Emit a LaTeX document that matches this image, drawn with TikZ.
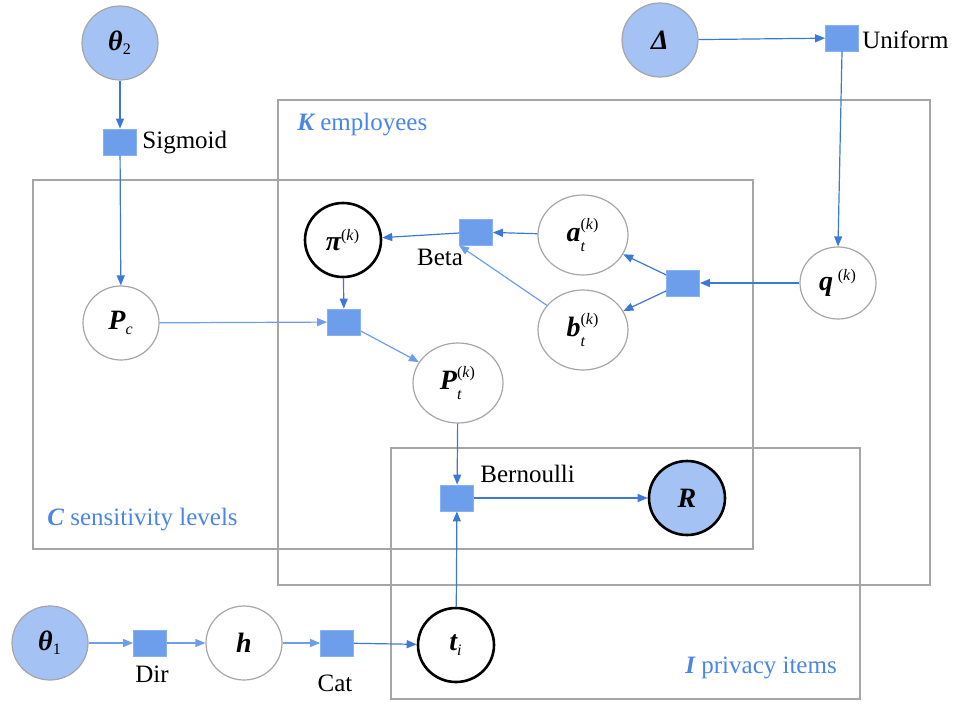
\documentclass[tikz,border=0pt]{standalone}
\usepackage{fontspec}
\setmainfont{Liberation Serif}
\newfontfamily\tms{Liberation Serif}
\usetikzlibrary{shapes.geometric,arrows.meta}
\definecolor{obsfill}{HTML}{A4C2F4}
\definecolor{facfill}{HTML}{6D9EEB}
\definecolor{arrblue}{HTML}{3C78D8}
\definecolor{arrlight}{HTML}{6D9EEB}
\definecolor{plategray}{HTML}{A6A6A6}
\definecolor{labblue}{HTML}{4A86E8}
\newcommand{\bim}[1]{{\tms\bfseries\itshape #1}}
\newcommand{\sml}[1]{\mbox{\tms\fontsize{8}{9}\selectfont #1}}
\newcommand{\supsub}[2]{$^{\raisebox{1pt}{\sml{#1}}}_{\raisebox{-1.5pt}{\sml{#2}}}$}
\begin{document}
\begin{tikzpicture}[x=0.5pt,y=-0.5pt,
  var/.style={ellipse,draw=gray!70,line width=0.6pt,fill=white,minimum width=38pt,minimum height=37pt,inner sep=0pt,font=\tms\fontsize{14}{16}\selectfont},
  wide/.style={minimum width=45pt,minimum height=40pt},
  obs/.style={fill=obsfill},
  thick black/.style={draw=black,line width=1.3pt},
  factor/.style={rectangle,draw=facfill!80!white,line width=0.4pt,fill=facfill,minimum width=16.5pt,minimum height=13pt,inner sep=0pt},
  plate/.style={draw=plategray,line width=1.4pt},
  lab/.style={font=\tms\fontsize{12.5}{14}\selectfont,inner sep=0pt},
  platelab/.style={font=\tms\fontsize{12.5}{14}\selectfont,text=labblue,inner sep=0pt,anchor=west},
  arr/.style={draw=arrblue,line width=0.6pt,-{Triangle[length=5pt,width=4pt]}},
  arrl/.style={draw=arrlight,line width=0.6pt,-{Triangle[length=5pt,width=4pt]}}
]
\useasboundingbox (0,0) rectangle (958,706);
% plates
\draw[plate] (278,100) rectangle (930,585);
\draw[plate] (33,180) rectangle (753,549);
\draw[plate] (391,448) rectangle (860,699);
\node[platelab] (lk) at (297,125) {\bim{K} employees};
\node[platelab] (lc) at (47,520) {\bim{C} sensitivity levels};
\node[platelab] (li) at (685,668) {\bim{I} privacy items};
% nodes
\node[var,obs] (th2) at (120,43) {\bim{θ}$_{\sml{2}}$};
\node[factor] (sig) at (120,142) {};
\node[lab,anchor=west] (lsig) at (142,143) {Sigmoid};
\node[var,obs] (del) at (660,40) {\bim{Δ}};
\node[factor] (uni) at (842,38) {};
\node[lab,anchor=west] (luni) at (862,40) {Uniform};
\node[var,thick black] (pi) at (343,240) {\bim{π}$^{\sml{(\textit{k})}}$};
\node[factor] (beta) at (476,232) {};
\node[lab] (lbeta) at (440,257) {Beta};
\node[var,wide] (at) at (583,235) {\bim{a}\supsub{(\textit{k})}{\textit{t}}};
\node[var,wide] (bt) at (583,330) {\bim{b}\supsub{(\textit{k})}{\textit{t}}};
\node[factor] (fq) at (683,283) {};
\node[var,minimum width=38pt,minimum height=36pt] (q) at (838,283) {\bim{q}\,$^{\sml{(\textit{k})}}$};
\node[var] (pc) at (121,323) {\bim{P}$_{\sml{\textit{c}}}$};
\node[factor] (fm) at (344,322) {};
\node[var,wide] (pt) at (458,383) {\bim{P}\supsub{(\textit{k})}{\textit{t}}};
\node[factor] (bern) at (457,498) {};
\node[lab,anchor=west] (lbern) at (480,474) {Bernoulli};
\node[var,obs,thick black] (R) at (687,498) {\bim{R}};
\node[var,obs] (th1) at (50,643) {\bim{θ}$_{\sml{1}}$};
\node[factor] (dir) at (150,643) {};
\node[lab] (ldir) at (152,674) {Dir};
\node[var] (h) at (244,643) {\bim{h}};
\node[factor] (cat) at (337,643) {};
\node[lab] (lcat) at (335,683) {Cat};
\node[var,thick black] (ti) at (456,645) {\bim{t}$_{\sml{\textit{i}}}$};
% edges
\draw[arr] (th2) -- (sig);
\draw[arr] (sig) -- (pc);
\draw[arr] (del) -- (uni);
\draw[arr] (uni.south) -- (q.north);
\draw[arr] (q) -- (fq);
\draw[arr] (fq) -- (at);
\draw[arr] (fq) -- (bt);
\draw[arr] (at) -- (beta);
\draw[arrl] (bt) -- (beta.south west);
\draw[arr] (beta) -- (pi);
\draw[arr] (pi) -- (fm);
\draw[arrl] (pc) -- (fm);
\draw[arrl] (fm) -- (pt);
\draw[arr] (pt) -- (bern);
\draw[arr] (ti) -- (bern);
\draw[arr] (bern) -- (R);
\draw[arrl] (th1) -- (dir);
\draw[arrl] (dir) -- (h);
\draw[arrl] (h) -- (cat);
\draw[arr] (cat) -- (ti);
\end{tikzpicture}
\end{document}
